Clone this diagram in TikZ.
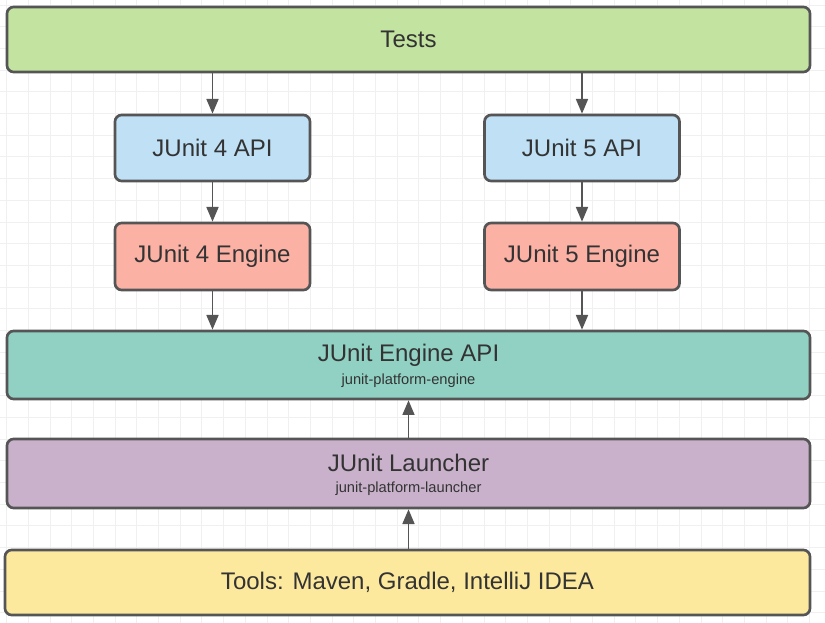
\documentclass[tikz,border=0pt]{standalone}
\usepackage{fontspec}
\setmainfont{Liberation Sans}
\usetikzlibrary{arrows.meta}
\definecolor{gridc}{HTML}{F0F0F0}
\definecolor{edgec}{HTML}{555555}
\definecolor{txtc}{HTML}{333333}
\definecolor{cTests}{HTML}{C3E3A0}
\definecolor{cApi}{HTML}{BFE0F5}
\definecolor{cEng}{HTML}{FCB1A5}
\definecolor{cEngApi}{HTML}{90D1C4}
\definecolor{cLaunch}{HTML}{C9B1CC}
\definecolor{cTools}{HTML}{FDE99E}
\tikzset{
  boxstyle/.style={draw=edgec, line width=2pt, rounded corners=5pt, inner sep=0pt,
    text=txtc, font=\fontsize{18}{21}\selectfont},
  wideboxstyle/.style={boxstyle, minimum width=803*0.75pt},
  smallboxstyle/.style={boxstyle, minimum width=195*0.75pt, minimum height=66*0.75pt},
  maintxt/.style={text=txtc, inner sep=0pt, font=\fontsize{18}{21}\selectfont},
  subtxt/.style={text=txtc, inner sep=0pt, font=\fontsize{11}{13}\selectfont},
  arr/.style={draw=edgec, line width=1.3pt, -{Triangle[length=11pt,width=9pt]}}
}
\begin{document}
\begin{tikzpicture}[x=0.75pt,y=-0.75pt]
\useasboundingbox (0,0) rectangle (825,623);
\fill[white] (0,0) rectangle (825,623);
% faint background grid
\foreach \i in {0,...,38} {
  \draw[gridc, line width=0.6pt] ({6.5+21.7*\i},0) -- ({6.5+21.7*\i},623);
}
\foreach \j in {0,...,29} {
  \draw[gridc, line width=0.6pt] (0,{5+21.7*\j}) -- (825,{5+21.7*\j});
}
% boxes
\node[wideboxstyle, fill=cTests, minimum height=65*0.75pt] (tests) at (408.5,39.5) {Tests};
\node[smallboxstyle, fill=cApi] (api4) at (212.5,148) {JUnit 4 API};
\node[smallboxstyle, fill=cApi] (api5) at (582,148) {JUnit 5 API};
\node[smallboxstyle, fill=cEng, minimum height=67*0.75pt] (eng4) at (212.5,256.5) {JUnit 4 Engine};
\node[smallboxstyle, fill=cEng, minimum height=67*0.75pt] (eng5) at (582,256.5) {JUnit 5 Engine};
\node[wideboxstyle, fill=cEngApi, minimum height=68*0.75pt] (engapi) at (408.5,365) {};
\node[maintxt] (engapit) at (408.5,355) {JUnit Engine API};
\node[subtxt] (engapis) at (408.5,381) {junit-platform-engine};
\node[wideboxstyle, fill=cLaunch, minimum height=69*0.75pt] (launch) at (408.5,473.5) {};
\node[maintxt] (launcht) at (408.5,463) {JUnit Launcher};
\node[subtxt] (launchs) at (408.5,489) {junit-platform-launcher};
\node[boxstyle, fill=cTools, minimum width=805*0.75pt, minimum height=65*0.75pt] (tools) at (407.5,582.5) {Tools: Maven, Gradle, IntelliJ IDEA};
% connectors
\draw[arr] (tests.south -| api4) -- (api4.north);
\draw[arr] (tests.south -| api5) -- (api5.north);
\draw[arr] (api4) -- (eng4);
\draw[arr] (api5) -- (eng5);
\draw[arr] (eng4.south) -- (engapi.north -| eng4);
\draw[arr] (eng5.south) -- (engapi.north -| eng5);
\draw[arr] (launch.north) -- (engapi.south);
\draw[arr] (tools.north -| launch) -- (launch.south);
\end{tikzpicture}
\end{document}
